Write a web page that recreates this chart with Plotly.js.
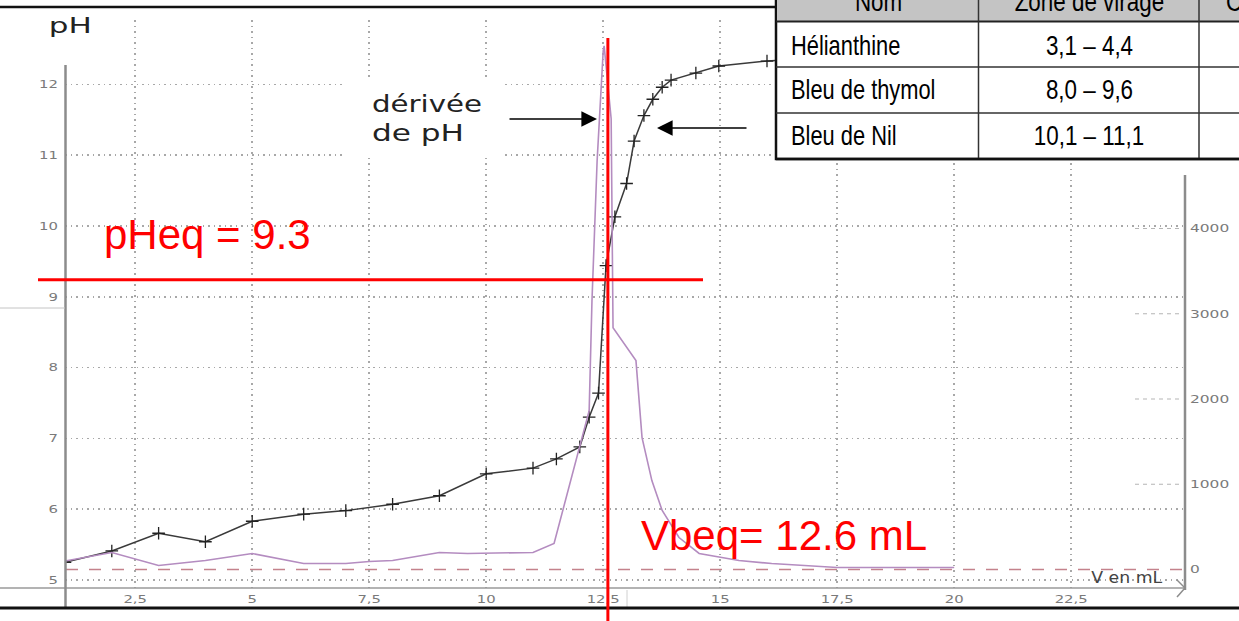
<!DOCTYPE html>
<html>
<head>
<meta charset="utf-8">
<script src="https://cdn.plot.ly/plotly-3.0.1.min.js"></script>
<style>
  html, body { margin: 0; padding: 0; background: #fff; }
  #chart { width: 1239px; height: 621px; }
</style>
</head>
<body>
<div id="chart"></div>
<script>
// ---------- data ----------
const volumePH = [1, 2, 3, 4, 5, 6.1, 7, 8, 9, 10, 11, 11.5, 12, 12.2, 12.4, 12.56, 12.75, 13.0, 13.16, 13.37, 13.56, 13.76, 13.95, 14.48, 14.97, 16, 17];
const pHValues = [5.25, 5.41, 5.66, 5.54, 5.83, 5.93, 5.98, 6.07, 6.19, 6.50, 6.58, 6.71, 6.88, 7.30, 7.64, 9.44, 10.13, 10.6, 11.2, 11.56, 11.79, 11.96, 12.06, 12.16, 12.26, 12.33, 12.37];

const volumeDeriv = [1, 2, 3, 4, 5, 6.1, 7, 7.5, 8, 9, 9.6, 11, 11.45, 12.2, 12.26, 12.37, 12.5, 12.52, 12.67, 12.71, 13.2, 13.33, 13.54, 13.76, 14.12, 14.55, 15.4, 16.1, 17.5, 20];
const derivValues = [100, 200, 47, 105, 188, 70, 70, 94, 105, 200, 188, 200, 305, 1864, 3150, 4795, 6084, 6143, 5287, 2837, 2450, 1547, 1043, 692, 375, 188, 105, 70, 23, 23];

const xTickVals = [2.5, 5, 7.5, 10, 12.5, 15, 17.5, 20, 22.5];
const xTickText = ['2,5', '5', '7,5', '10', '12,5', '15', '17,5', '20', '22,5'];
const pHTickVals = [5, 6, 7, 8, 9, 10, 11, 12];
const derivTickVals = [0, 1000, 2000, 3000, 4000];

const tableHeader = ['Nom', 'Zone de virage', 'Couleur'];
const indicatorNames = ['Hélianthine', 'Bleu de thymol', 'Bleu de Nil'];
const indicatorZones = ['3,1 – 4,4', '8,0 – 9,6', '10,1 – 11,1'];

const Vbeq = 12.6;          // vertical red line
const pHeqLine = 9.24;      // horizontal red line as drawn
const pHeqText = 'pHeq = 9.3';
const VbeqText = 'Vbeq= 12.6 mL';

// ---------- pixel helpers (decorations only) ----------
const W = 1239, H = 621;
const M = {l: 65, r: 54, t: 20, b: 33};
const PW = W - M.l - M.r, PH = H - M.t - M.b;
const px = x => (x - M.l) / PW;
const py = y => (H - M.b - y) / PH;

const gray = '#8c8c8c';
const shapes = [];
function seg(x0, y0, x1, y1, color, width, dash) {
  shapes.push({type: 'line', xref: 'paper', yref: 'paper', x0: px(x0), y0: py(y0), x1: px(x1), y1: py(y1),
    line: {color: color, width: width, dash: dash || 'solid'}, layer: 'above'});
}
function rect(x0, y0, x1, y1, fill, lineColor, lw) {
  shapes.push({type: 'rect', xref: 'paper', yref: 'paper', x0: px(x0), y0: py(y0), x1: px(x1), y1: py(y1),
    fillcolor: fill, line: {color: lineColor || fill, width: lw || 0}, layer: 'above'});
}

// axes drawn as lines
seg(0, 588, 1185, 588, '#9a9a9a', 1.5);          // x axis
seg(65.5, 65, 65.5, 607, gray, 2.5);             // left pH axis
seg(1185, 175, 1185, 590, gray, 2.5);            // right derivative axis
seg(1177, 580, 1185, 588, gray, 1.5);            // arrow head
seg(1185, 588, 1177, 597, gray, 1.5);
seg(0, 308, 65, 308, '#c4c4c4', 1);
seg(627, 590, 627, 607, '#d0d0d0', 1);

// short right-axis grid marks
derivTickVals.slice(1).forEach(v => {
  shapes.push({type: 'line', xref: 'paper', yref: 'y2', x0: px(1135), x1: px(1180), y0: v, y1: v,
    line: {color: '#b5b5b5', width: 1.2, dash: '4px,4px'}, layer: 'below'});
});

// dashed zero line of the derivative
shapes.push({type: 'line', xref: 'paper', yref: 'y2', x0: px(66), x1: px(1182), y0: 0, y1: 0,
  line: {color: 'rgb(196,130,140)', width: 1.5, dash: '12px,11px'}, layer: 'below'});

// white box behind "dérivée de pH"
rect(345, 80, 505, 158, '#ffffff');

// black frame lines
seg(0, 7, 776, 7, '#111', 2.5);
seg(0, 608, 1239, 608, '#111', 3);

// red construction lines
shapes.push({type: 'line', xref: 'x', yref: 'paper', x0: Vbeq, x1: Vbeq, y0: py(621), y1: py(38),
  line: {color: '#ff0000', width: 3}, layer: 'above'});
shapes.push({type: 'line', xref: 'paper', yref: 'y', x0: px(38), x1: px(703), y0: pHeqLine, y1: pHeqLine,
  line: {color: '#ff0000', width: 3}, layer: 'above'});

// table
rect(776, -10, 1245, 159, '#ffffff', '#111', 2.5);
rect(777, -10, 1245, 21, '#c4c4c4');
seg(776, 21.5, 1245, 21.5, '#222', 2);
seg(776, 67, 1245, 67, '#333', 1.5);
seg(776, 113, 1245, 113, '#333', 1.5);
seg(978.5, -10, 978.5, 159, '#333', 1.5);
seg(1199, -10, 1199, 159, '#333', 1.5);
seg(776, 159, 1245, 159, '#111', 2.5);

const tableFont = {family: 'Liberation Sans', size: 28, color: '#000'};
const annotations = [];
const stretchInfo = [];   // per annotation: [factor or null, target width or null, keep side]
function txt(text, x, y, opts, factor, target, keep) {
  annotations.push(Object.assign({text: text, xref: 'paper', yref: 'paper', x: px(x), y: py(y),
    showarrow: false, xanchor: 'center', yanchor: 'middle'}, opts || {}));
  stretchInfo.push([factor || null, target || null, keep || 'center']);
}
const headerX = [878, 1089, 1224];
const headerAnchor = ['center', 'center', 'left'];
tableHeader.forEach((t, i) => txt(t, headerX[i], 1, {font: tableFont, xanchor: headerAnchor[i]}, 0.8, null, headerAnchor[i]));
const rowY = [45, 90, 136];
indicatorNames.forEach((t, i) => txt(t, 789, rowY[i], {font: tableFont, xanchor: 'left'}, 0.78, null, 'left'));
indicatorZones.forEach((t, i) => txt(t, 1089, rowY[i], {font: tableFont}, 0.8, null, 'center'));

// labels
txt('pH', 70, 26, {font: {family: 'DejaVu Sans', size: 22, color: '#222'}}, null, 43, 'center');
txt('dérivée', 370, 104, {font: {family: 'DejaVu Sans', size: 23, color: '#222'}, xanchor: 'left'}, null, 110, 'left');
txt('de pH', 370, 133, {font: {family: 'DejaVu Sans', size: 23, color: '#222'}, xanchor: 'left'}, null, 92, 'left');
txt('V en mL', 1127, 578, {font: {family: 'DejaVu Sans', size: 15, color: '#444'}}, null, 71, 'center');
txt(pHeqText, 102, 234, {font: {family: 'Liberation Sans', size: 42, color: '#ff0000'}, xanchor: 'left'});
txt(VbeqText, 639, 535, {font: {family: 'Liberation Sans', size: 42, color: '#ff0000'}, xanchor: 'left'});

// arrows
annotations.push({xref: 'paper', yref: 'paper', x: px(597), y: py(119), ax: -89, ay: 0, text: '',
  showarrow: true, arrowhead: 2, arrowsize: 2.4, arrowwidth: 1.3, arrowcolor: '#000'});
annotations.push({xref: 'paper', yref: 'paper', x: px(657), y: py(128), ax: 91, ay: 0, text: '',
  showarrow: true, arrowhead: 2, arrowsize: 2.4, arrowwidth: 1.3, arrowcolor: '#000'});

const tickFont = {family: 'DejaVu Sans', size: 11, color: '#7a7a7a'};

const traces = [
  {x: volumeDeriv, y: derivValues, yaxis: 'y2', type: 'scatter', mode: 'lines',
   line: {color: 'rgb(180,140,192)', width: 1.6}, hoverinfo: 'skip'},
  {x: volumePH, y: pHValues, type: 'scatter', mode: 'lines+markers',
   line: {color: '#3a3a3a', width: 1.5},
   marker: {symbol: 'cross-thin', size: 9, line: {color: '#222', width: 1.3}}, hoverinfo: 'skip'}
];

const layout = {
  width: W, height: H,
  margin: M,
  paper_bgcolor: '#ffffff', plot_bgcolor: '#ffffff',
  showlegend: false,
  xaxis: {range: [1, 1 + PW / 46.8], tickvals: xTickVals, ticktext: xTickText, tickfont: tickFont,
    showgrid: true, gridcolor: '#a8a8a8', gridwidth: 1.5, griddash: '1.5px,4px',
    zeroline: false, showline: false, ticks: '', ticklabelstandoff: 3},
  yaxis: {range: [5 - 8 / 70.8, 5 + 560 / 70.8], tickvals: pHTickVals, tickfont: tickFont,
    showgrid: true, gridcolor: '#a8a8a8', gridwidth: 1.5, griddash: '1.5px,4px',
    zeroline: false, showline: false, ticks: '', ticklabelstandoff: 6},
  yaxis2: {overlaying: 'y', side: 'right', range: [-18.5 / 85.25 * 1000, 549.5 / 85.25 * 1000],
    tickvals: derivTickVals, tickfont: tickFont, showgrid: false, zeroline: false, showline: false,
    ticks: '', ticklabelstandoff: 4},
  shapes: shapes,
  annotations: annotations
};

// horizontal stretching of texts (the reference screenshot is widened)
function stretchText(t, factor, target, keep) {
  const w = t.getComputedTextLength();
  if (!w) return;
  const b0 = t.getBBox();
  const nw = target ? target : w * factor;
  t.setAttribute('textLength', nw);
  t.setAttribute('lengthAdjust', 'spacingAndGlyphs');
  const b1 = t.getBBox();
  let dx;
  if (keep === 'left') dx = b0.x - b1.x;
  else if (keep === 'right') dx = (b0.x + b0.width) - (b1.x + b1.width);
  else dx = (b0.x + b0.width / 2) - (b1.x + b1.width / 2);
  const x = parseFloat(t.getAttribute('x') || '0');
  t.setAttribute('x', x + dx);
}

Plotly.newPlot('chart', traces, layout, {displayModeBar: false, staticPlot: true}).then(gd => {
  gd.querySelectorAll('.xtick text').forEach(t => stretchText(t, 1.35, null, 'center'));
  gd.querySelectorAll('.ytick text').forEach(t => stretchText(t, 1.35, null, 'right'));
  gd.querySelectorAll('.y2tick text').forEach(t => stretchText(t, 1.4, null, 'left'));
  gd.querySelectorAll('g.annotation').forEach(g => {
    const i = parseInt(g.getAttribute('data-index'), 10);
    const info = stretchInfo[i];
    if (!info || (!info[0] && !info[1])) return;
    const t = g.querySelector('text.annotation-text');
    if (t) stretchText(t, info[0], info[1], info[2]);
  });
});
</script>
</body>
</html>
